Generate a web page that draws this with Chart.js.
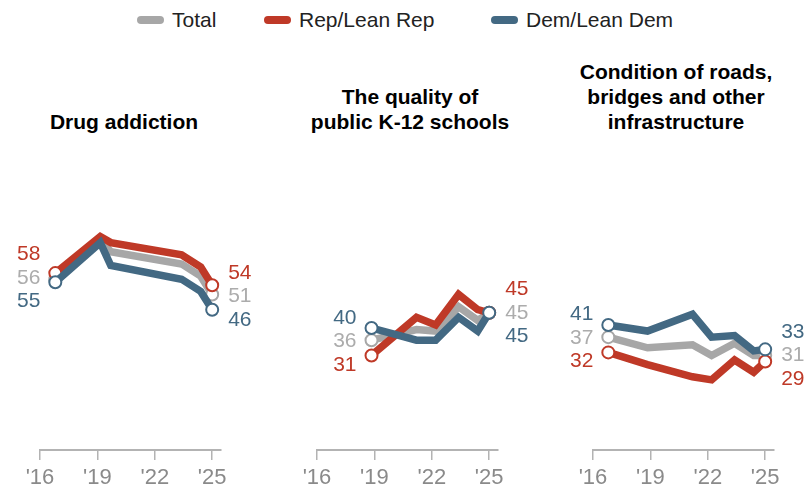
<!DOCTYPE html>
<html><head><meta charset="utf-8">
<script src="https://cdn.jsdelivr.net/npm/chart.js@4.4.1/dist/chart.umd.min.js"></script>
<style>
html,body{margin:0;padding:0;background:#fff;width:809px;height:489px;overflow:hidden;position:relative;font-family:"Liberation Sans",Arial,sans-serif;}
.cv{position:absolute;top:0;}
.title{position:absolute;width:300px;text-align:center;font-weight:bold;font-size:21px;line-height:25px;color:#000;}
.lg-sw{position:absolute;height:8px;border-radius:4px;top:15.5px;width:27px;}
.lg-tx{position:absolute;font-size:21px;line-height:21px;color:#222;white-space:nowrap;top:9px;}
</style></head><body>
<script>
// ---------- data ----------
const seriesNames = ['Total', 'Rep/Lean Rep', 'Dem/Lean Dem'];
const panelTitles = [
  ['Drug addiction'],
  ['The quality of', 'public K-12 schools'],
  ['Condition of roads,', 'bridges and other', 'infrastructure']
];
const tickYears = [2016, 2019, 2022, 2025];

const drugYears  = [2016.8, 2019.15, 2019.7, 2023.4, 2024.4, 2025.0];
const drugTotal  = [56, 69, 65, 61, 57, 51];
const drugRep    = [58, 70, 68, 64, 60, 54];
const drugDem    = [55, 68, 60.5, 56, 52, 46];

const schoolYears = [2018.85, 2021.2, 2022.2, 2023.4, 2024.4, 2025.0];
const schoolTotal = [36, 39.5, 39, 47, 42.5, 45];
const schoolRep   = [31, 43.5, 41, 51, 46, 45];
const schoolDem   = [40, 36, 36, 43.5, 39, 45];

const roadYears = [2016.8, 2018.85, 2021.2, 2022.2, 2023.4, 2024.4, 2025.0];
const roadTotal = [37, 33.5, 34.5, 31, 35, 31, 31];
const roadRep   = [32, 28, 24, 23, 29.5, 25.5, 29];
const roadDem   = [41, 39, 44.5, 37, 37.5, 32.5, 33];

// ---------- style / layout ----------
const COLORS = ['#a7a7a7', '#bf3927', '#436983'];
const LABEL_COLORS = ['#acacac', '#bf3927', '#436983'];
const FONT = '"Liberation Sans", Arial, sans-serif';
const panelLefts = [39.5, 316.5, 593];
const titleCenters = [124, 410, 676];
const legendLefts = [137, 264, 491];

// legend
seriesNames.forEach((n, i) => {
  const sw = document.createElement('div');
  sw.className = 'lg-sw'; sw.style.left = legendLefts[i] + 'px'; sw.style.background = COLORS[i];
  document.body.appendChild(sw);
  const tx = document.createElement('div');
  tx.className = 'lg-tx'; tx.style.left = (legendLefts[i] + 35) + 'px'; tx.textContent = n;
  document.body.appendChild(tx);
});

// titles
panelTitles.forEach((lines, i) => {
  const d = document.createElement('div');
  d.className = 'title';
  d.style.left = (titleCenters[i] - 150) + 'px';
  d.style.top = (109.2 - (lines.length - 1) * 25) + 'px';
  d.innerHTML = lines.map(l => l.replace(/&/g,'&amp;')).join('<br>');
  document.body.appendChild(d);
});

function spread(items, gap) {
  let cl = items.map(it => ({ items: [it], c: it.y }));
  let changed = true;
  while (changed) {
    changed = false;
    for (let i = 0; i < cl.length - 1; i++) {
      const a = cl[i], b = cl[i + 1];
      const aBot = a.c + (a.items.length - 1) * gap / 2;
      const bTop = b.c - (b.items.length - 1) * gap / 2;
      if (bTop - aBot < gap) {
        const merged = a.items.concat(b.items);
        const c = merged.reduce((s, it) => s + it.y, 0) / merged.length;
        cl.splice(i, 2, { items: merged, c });
        changed = true; break;
      }
    }
  }
  cl.forEach(k => k.items.forEach((it, j) => { it.ly = k.c + (j - (k.items.length - 1) / 2) * gap; }));
}

const endLabels = {
  id: 'endLabels',
  afterDatasetsDraw(chart) {
    const ctx = chart.ctx;
    ctx.save();
    ctx.font = '21px ' + FONT;
    ctx.textBaseline = 'middle';
    ['start', 'end'].forEach(side => {
      const items = chart.data.datasets.map((ds, i) => {
        const meta = chart.getDatasetMeta(i);
        const idx = side === 'start' ? 0 : ds.data.length - 1;
        const pt = meta.data[idx];
        return { x: pt.x, y: pt.y, text: String(Math.round(ds.data[idx].y)), color: ds.labelColor, pri: ds.pri };
      });
      items.sort((a, b) => (a.y - b.y) || (a.pri - b.pri));
      spread(items, 23.5);
      items.forEach(it => {
        ctx.fillStyle = it.color;
        ctx.textAlign = side === 'start' ? 'right' : 'left';
        ctx.fillText(it.text, side === 'start' ? it.x - 15 : it.x + 16, it.ly);
      });
    });
    ctx.restore();
  }
};

function mkDs(si, years, vals, order, pri) {
  const n = vals.length;
  return {
    label: seriesNames[si],
    data: years.map((x, i) => ({ x, y: vals[i] })),
    borderColor: COLORS[si],
    borderWidth: 7.5,
    tension: 0,
    order,
    pri,
    labelColor: LABEL_COLORS[si],
    pointRadius: c => (c.dataIndex === 0 || c.dataIndex === n - 1) ? 6 : 0,
    pointBackgroundColor: '#ffffff',
    pointBorderColor: COLORS[si],
    pointBorderWidth: 2,
    pointHitRadius: 0
  };
}

function makePanel(p, years, total, rep, dem) {
  const W = 280, padL = 40, areaW = 180.8;
  const cv = document.createElement('canvas');
  cv.width = W; cv.height = 489; cv.className = 'cv';
  cv.style.left = (panelLefts[p] - padL) + 'px';
  cv.style.width = W + 'px'; cv.style.height = '489px';
  document.body.appendChild(cv);
  new Chart(cv, {
    type: 'line',
    data: { datasets: [
      mkDs(2, years, dem, 0, 2),
      mkDs(1, years, rep, 1, 0),
      mkDs(0, years, total, 2, 1)
    ] },
    options: {
      responsive: false, animation: false, devicePixelRatio: 1,
      layout: { padding: { left: padL, right: W - padL - areaW, top: 145, bottom: 0 } },
      plugins: { legend: { display: false }, tooltip: { enabled: false } },
      scales: {
        x: {
          type: 'linear', min: 2016, max: 2025.45,
          afterBuildTicks: s => { s.ticks = tickYears.map(v => ({ value: v })); },
          afterFit: s => { s.height = 39; },
          grid: { drawOnChartArea: false, drawTicks: true, tickLength: 10, color: '#b3b3b3', lineWidth: 1.5 },
          border: { display: true, color: '#b3b3b3', width: 2 },
          ticks: { padding: 5, color: '#8a8a8a', font: { family: FONT, size: 22 }, maxRotation: 0, autoSkip: false,
                   callback: v => "'" + String(v).slice(2) }
        },
        y: { display: false, min: 0, max: 100 }
      }
    },
    plugins: [endLabels]
  });
}

makePanel(0, drugYears, drugTotal, drugRep, drugDem);
makePanel(1, schoolYears, schoolTotal, schoolRep, schoolDem);
makePanel(2, roadYears, roadTotal, roadRep, roadDem);
</script>
</body></html>
